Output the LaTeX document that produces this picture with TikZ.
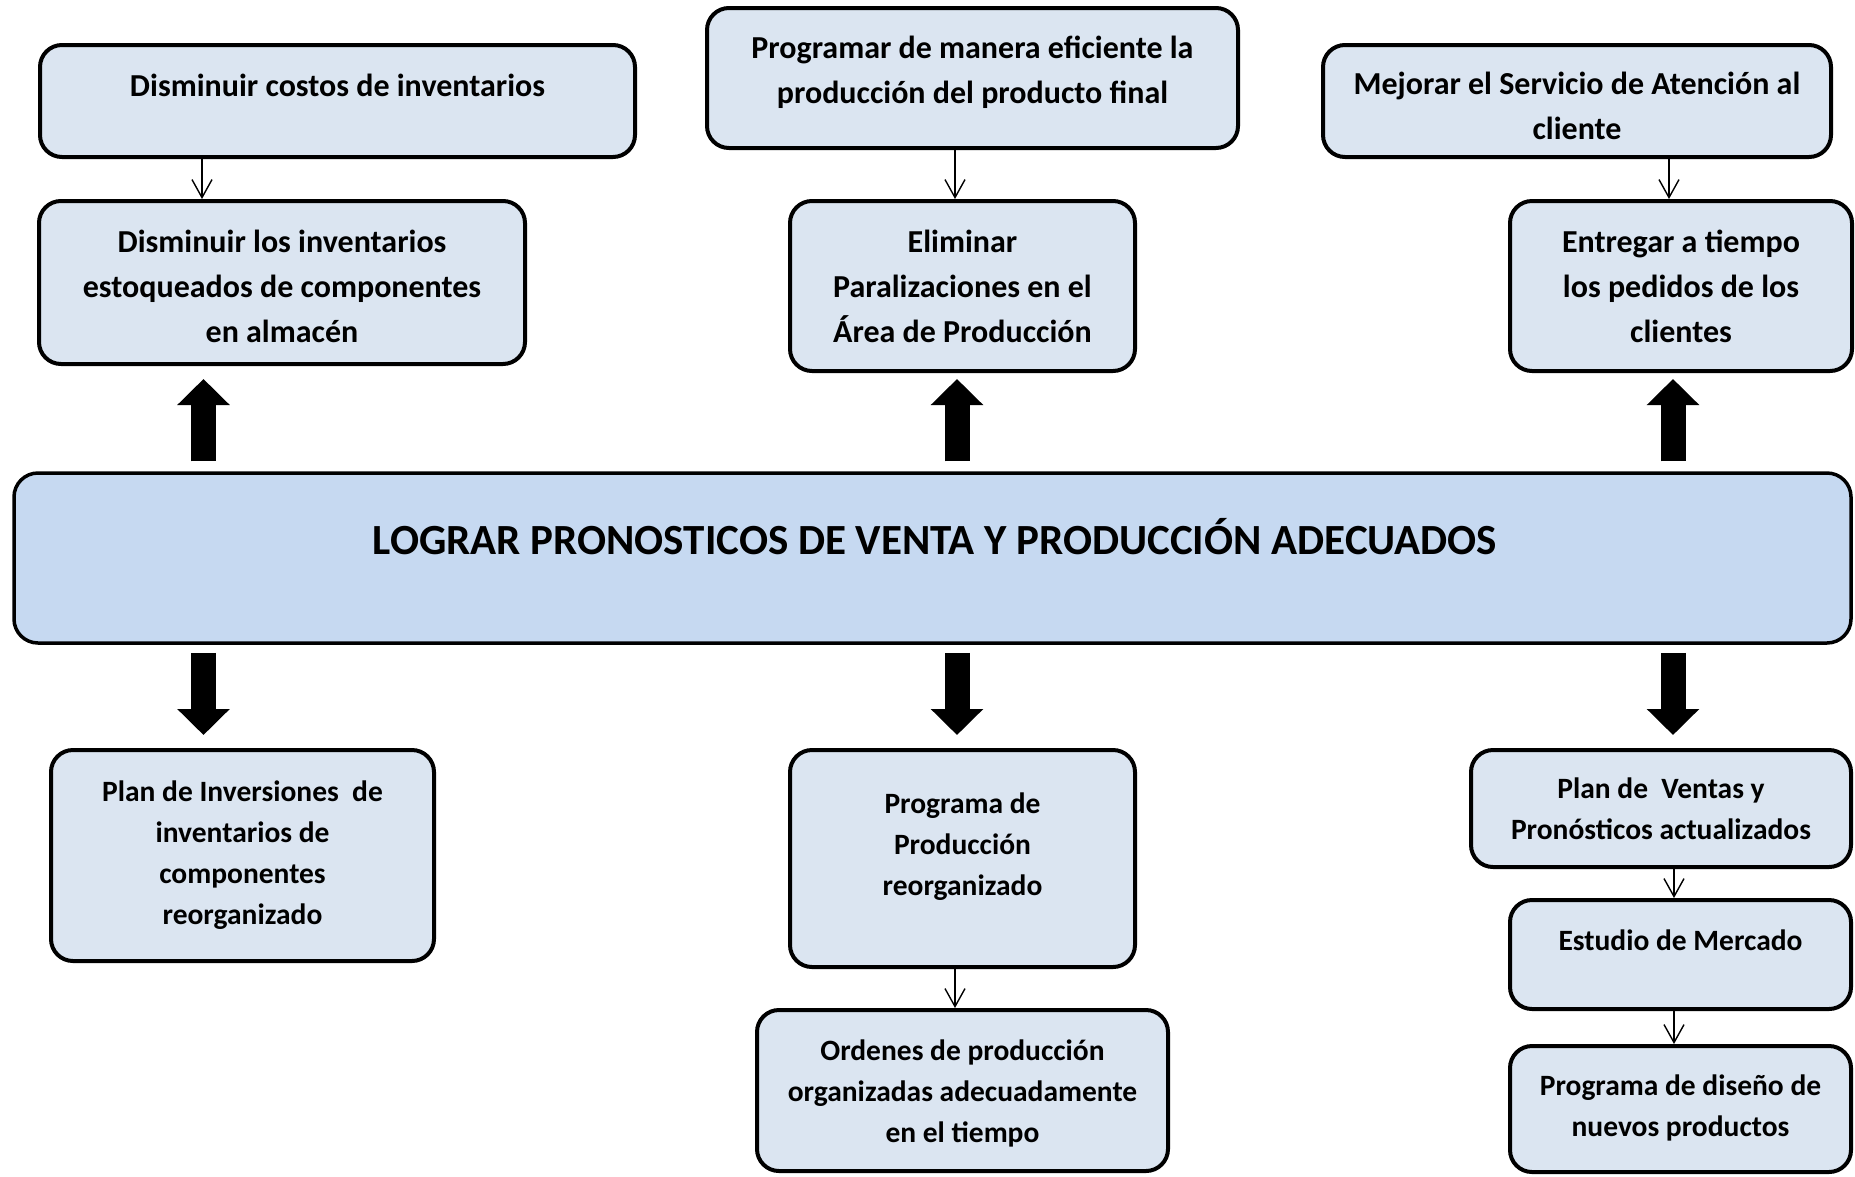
\documentclass[tikz,border=0pt]{standalone}
\usepackage{fontspec}
\setmainfont{Carlito}
\usetikzlibrary{arrows.meta}
\definecolor{boxfill}{HTML}{DBE5F1}
\definecolor{mainfill}{HTML}{C6D9F1}
\begin{document}
\begin{tikzpicture}[x=1pt,y=-1pt,
  box/.style={draw=black, line width=4pt, fill=boxfill, rounded corners=22pt, inner sep=0pt},
  mainbox/.style={draw=black, line width=3.5pt, fill=mainfill, rounded corners=24pt, inner sep=0pt},
  txt/.style={anchor=north, align=center, inner sep=0pt, font=\bfseries\fontsize{32}{45}\selectfont, execute at begin node={\rule{0pt}{1em}}},
  txts/.style={txt, font=\bfseries\fontsize{29.5}{41}\selectfont},
  thinarrow/.style={line width=1.4pt, -{Straight Barb[length=18pt,width=20pt]}},
  bigarrow/.style={line width=25pt, -{Triangle[length=26pt,width=51pt]}},
]
\useasboundingbox (0,0) rectangle (1855,1176);
% top row
\node[box, minimum width=595pt, minimum height=112pt] (b1) at (337.5,101) {};
\node[box, minimum width=531pt, minimum height=140pt] (b2) at (972.5,78) {};
\node[box, minimum width=508pt, minimum height=112pt] (b3) at (1577,101) {};
% second row
\node[box, minimum width=486pt, minimum height=163pt] (c1) at (282,282.5) {};
\node[box, minimum width=345pt, minimum height=170pt] (c2) at (962.5,286) {};
\node[box, minimum width=342pt, minimum height=170pt] (c3) at (1681,286) {};
% main
\node[mainbox, minimum width=1837pt, minimum height=170pt] (main) at (932.5,558) {};
% bottom
\node[box, minimum width=383pt, minimum height=211pt] (d1) at (242.5,855.5) {};
\node[box, minimum width=345pt, minimum height=217pt] (d2) at (962.5,858.5) {};
\node[box, minimum width=411pt, minimum height=161pt] (d3) at (962.5,1090.5) {};
\node[box, minimum width=380pt, minimum height=117pt] (e1) at (1661,808.5) {};
\node[box, minimum width=341pt, minimum height=109pt] (e2) at (1680.5,954.5) {};
\node[box, minimum width=341pt, minimum height=126pt] (e3) at (1680.5,1109) {};

% texts
\node[txt] (tb1) at (337.5,64) {Disminuir costos de inventarios};
\node[txt] (tb2) at (972.5,36) {Programar de manera eficiente la\\producción del producto final};
\node[txt] (tb3) at (1577,72) {Mejorar el Servicio de Atención al\\cliente};
\node[txt] (tc1) at (282,229.5) {Disminuir los inventarios\\estoqueados de componentes\\en almacén};
\node[txt] (tc2) at (962.5,229.5) {Eliminar\\Paralizaciones en el\\Área de Producción};
\node[txt] (tc3) at (1681,230) {Entregar a tiempo\\los pedidos de los\\clientes};
\node[anchor=base, inner sep=0pt, font=\bfseries\fontsize{43}{50}\selectfont] (tmain) at (935,554) {LOGRAR PRONOSTICOS DE VENTA Y PRODUCCIÓN ADECUADOS};
\node[txts] (td1) at (242.5,781) {Plan de Inversiones\ \ de\\inventarios de\\componentes\\reorganizado};
\node[txts] (td2) at (962.5,792.5) {Programa de\\Producción\\reorganizado};
\node[txts] (td3) at (962.5,1040) {Ordenes de producción\\organizadas adecuadamente\\en el tiempo};
\node[txts] (te1) at (1661,777.5) {Plan de\ \ Ventas y\\Pronósticos actualizados};
\node[txts] (te2) at (1680.5,920.5) {Estudio de Mercado};
\node[txts] (te3) at (1680.5,1074.5) {Programa de diseño de\\nuevos productos};

% arrow x positions
\coordinate (xa) at (202,0);
\coordinate (xb) at (955,0);
\coordinate (xc) at (1669,0);
\coordinate (xe) at (1674,0);
\coordinate (ua) at (203.5,0);
\coordinate (ub) at (957,0);
\coordinate (uc) at (1673,0);

% thin arrows
\draw[thinarrow] (b1.south -| xa) -- (c1.north -| xa);
\draw[thinarrow] (b2.south -| xb) -- (c2.north -| xb);
\draw[thinarrow] (b3.south -| xc) -- (c3.north -| xc);
\draw[thinarrow] (d2.south -| xb) -- (d3.north -| xb);
\draw[thinarrow] (e1.south -| xe) -- (e2.north -| xe);
\draw[thinarrow] (e2.south -| xe) -- (e3.north -| xe);

% big arrows up
\draw[bigarrow, shorten <=10pt, shorten >=13pt] (main.north -| ua) -- (c1.south -| ua);
\draw[bigarrow, shorten <=10pt, shorten >=6pt] (main.north -| ub) -- (c2.south -| ub);
\draw[bigarrow, shorten <=10pt, shorten >=6pt] (main.north -| uc) -- (c3.south -| uc);
% big arrows down
\draw[bigarrow, shorten <=8pt, shorten >=13pt] (main.south -| ua) -- (d1.north -| ua);
\draw[bigarrow, shorten <=8pt, shorten >=13pt] (main.south -| ub) -- (d2.north -| ub);
\draw[bigarrow, shorten <=8pt, shorten >=13pt] (main.south -| uc) -- (e1.north -| uc);
\end{tikzpicture}
\end{document}
